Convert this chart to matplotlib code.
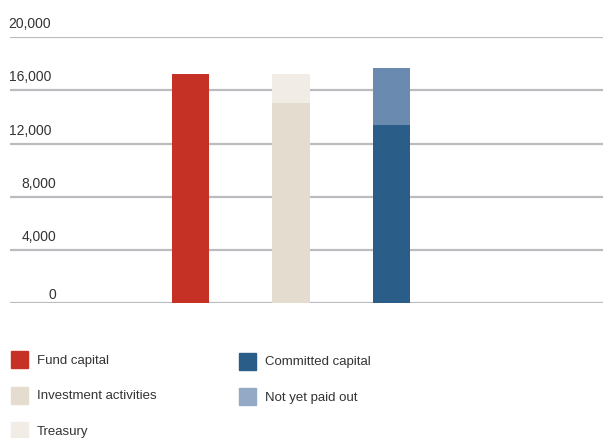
import matplotlib.pyplot as plt
from matplotlib.patches import Rectangle

plt.rcParams['font.family'] = ['Liberation Sans', 'DejaVu Sans']

# data
positions = [0, 1, 2]
fund_capital = [17250, 0, 0]
investment = [0, 15050, 0]
treasury = [0, 2200, 0]
committed = [0, 0, 13375]
not_paid = [0, 0, 4275]
yticks = [0, 4000, 8000, 12000, 16000, 20000]
ytick_labels = ['0', '4,000', '8,000', '12,000', '16,000', '20,000']

c_red = '#c53125'
c_beige = '#e5dcd0'
c_light = '#f1ece6'
c_blue = '#2b5d89'
c_lblue = '#6b8aaf'
c_lblue_leg = '#93a9c5'
grid_c = '#bbbbc0'
text_c = '#333333'

fig = plt.figure(figsize=(6.03, 4.38), dpi=100)
ax = fig.add_axes([10 / 603, 1 - 303.3 / 438, 593 / 603, (303.3 - 37) / 438])

for y in yticks:
    ax.axhline(y, color=grid_c, lw=1.6, zorder=1)

w = 0.37
ax.bar(positions, fund_capital, w, color=c_red, zorder=2)
ax.bar(positions, investment, w, color=c_beige, zorder=2)
ax.bar(positions, treasury, w, bottom=investment, color=c_light, zorder=2)
ax.bar(positions, committed, w, color=c_blue, zorder=2)
ax.bar(positions, not_paid, w, bottom=committed, color=c_lblue, zorder=2)

ax.set_xlim(-1.805, 4.115)
ax.set_ylim(0, 20000)
ax.axis('off')

for y, lab in zip(yticks, ytick_labels):
    right = 51 if len(lab) > 5 else 56
    dy = 1 if y == 0 else 6
    ax.annotate(lab, (0, y), xycoords=('figure pixels', 'data'),
                xytext=(right, dy), textcoords=('figure pixels', 'offset pixels'),
                ha='right', va='bottom', fontsize=10, color=text_c)

# legend
legend_items = [
    ('Fund capital', c_red, 11, 359, 361),
    ('Investment activities', c_beige, 11, 395, 396),
    ('Treasury', c_light, 11, 430, 432),
    ('Committed capital', c_blue, 239, 361, 362),
    ('Not yet paid out', c_lblue_leg, 239, 396, 398),
]
for label, col, x, yc, yt in legend_items:
    fig.patches.append(Rectangle((x / 603, 1 - (yc + 8.5) / 438), 17 / 603, 17 / 438,
                                 transform=fig.transFigure, color=col))
    fig.text((x + 26) / 603, 1 - yt / 438, label, ha='left', va='center',
             fontsize=9.5, color=text_c)

plt.savefig('out.png', dpi=100)
